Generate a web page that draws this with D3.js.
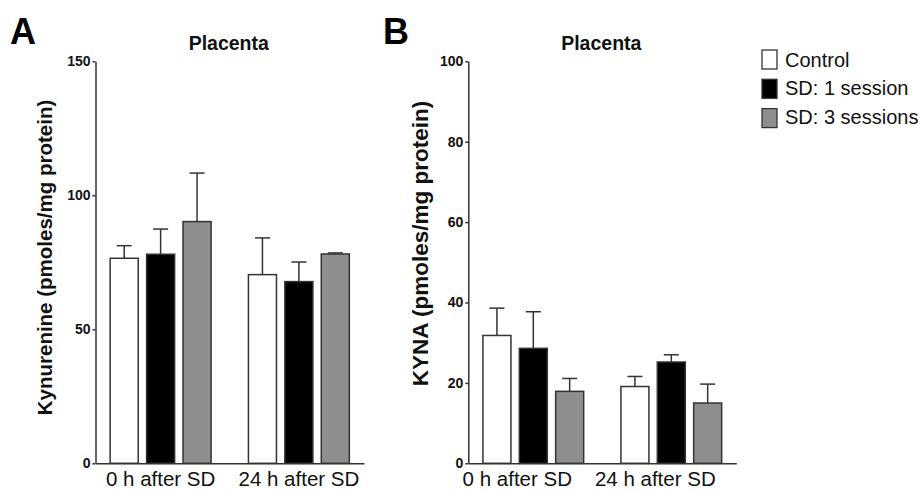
<!DOCTYPE html>
<html><head><meta charset="utf-8">
<script src="https://cdn.jsdelivr.net/npm/d3@7"></script>
<style>
html,body{margin:0;padding:0;background:#fff;}
svg{display:block;font-family:"Liberation Sans",Arial,Helvetica,sans-serif;}
</style></head>
<body><svg id="c" width="920" height="492"></svg>
<script>
const groups = ["0 h after SD", "24 h after SD"];
const seriesNames = ["Control", "SD: 1 session", "SD: 3 sessions"];
const seriesFill = ["#ffffff", "#000000", "#8e8e8e"];

// Panel A: Kynurenine (mean, SEM) per group
const kynControl = [76.5, 70.4];
const kynSD1 = [78.0, 67.8];
const kynSD3 = [90.2, 78.1];
const kynControlErr = [4.7, 13.7];
const kynSD1Err = [9.4, 7.3];
const kynSD3Err = [18.1, 0.4];
const kynTicks = [0, 50, 100, 150];

// Panel B: KYNA (mean, SEM) per group
const kynaControl = [31.8, 19.1];
const kynaSD1 = [28.6, 25.2];
const kynaSD3 = [17.9, 15.0];
const kynaControlErr = [6.8, 2.5];
const kynaSD1Err = [9.1, 1.8];
const kynaSD3Err = [3.2, 4.7];
const kynaTicks = [0, 20, 40, 60, 80, 100];

const svg = d3.select("#c");
const stroke = "#333";
const FONT = "'Liberation Sans',Arial,Helvetica,sans-serif";

function panel(opts) {
  const {x0, x1, yTop, yBot, ymax, ticks, means, errs, title, ylabel, letter, letterX, ylabelX, labelDx} = opts;
  const g = svg.append("g");
  const y = d3.scaleLinear().domain([0, ymax]).range([yBot, yTop]);
  const xg = d3.scaleBand().domain(groups).range([x0, x1]).paddingInner(0.27).paddingOuter(0.106);
  const xs = d3.scaleBand().domain(seriesNames).range([0, xg.bandwidth()]).paddingInner(0.23).paddingOuter(0);

  const data = [];
  groups.forEach((gr, gi) => seriesNames.forEach((s, si) => {
    data.push({gr, s, si, v: means[si][gi], e: errs[si][gi]});
  }));
  const cx = d => xg(d.gr) + xs(d.s) + xs.bandwidth() / 2;

  // bars
  g.selectAll("rect.bar").data(data).join("rect")
    .attr("class", "bar")
    .attr("x", d => xg(d.gr) + xs(d.s))
    .attr("width", xs.bandwidth())
    .attr("y", d => y(d.v))
    .attr("height", d => y(0) - y(d.v))
    .attr("fill", d => seriesFill[d.si])
    .attr("stroke", stroke).attr("stroke-width", 1.5);

  // error bars (upper only)
  const capW = 15;
  g.selectAll("line.err").data(data).join("line")
    .attr("x1", cx).attr("x2", cx)
    .attr("y1", d => y(d.v)).attr("y2", d => y(d.v + d.e))
    .attr("stroke", stroke).attr("stroke-width", 1.5);
  g.selectAll("line.cap").data(data).join("line")
    .attr("x1", d => cx(d) - capW / 2)
    .attr("x2", d => cx(d) + capW / 2)
    .attr("y1", d => y(d.v + d.e)).attr("y2", d => y(d.v + d.e))
    .attr("stroke", stroke).attr("stroke-width", 1.5);

  // y axis
  const ya = g.append("g").attr("transform", `translate(${x0},0)`)
    .call(d3.axisLeft(y).tickValues(ticks).tickSize(3).tickPadding(2).tickSizeOuter(0));
  ya.select(".domain").attr("stroke", stroke).attr("stroke-width", 1.5);
  ya.selectAll(".tick line").attr("stroke", stroke).attr("stroke-width", 1.5);
  ya.selectAll(".tick text").attr("font-size", 14).attr("font-weight", "bold")
    .attr("font-family", FONT).attr("fill", "#111");

  // x axis
  const xa = g.append("g").attr("transform", `translate(0,${yBot})`)
    .call(d3.axisBottom(xg).tickSize(0).tickPadding(8).tickSizeOuter(0));
  xa.select(".domain").attr("stroke", stroke).attr("stroke-width", 1.5);
  xa.selectAll(".tick text").attr("font-size", 20.5).attr("font-weight", "normal")
    .attr("font-family", FONT).attr("fill", "#111")
    .attr("dx", labelDx);

  // title
  g.append("text").attr("x", xg(groups[0]) + (xg(groups[1]) + xg.bandwidth() - xg(groups[0])) / 2 - 1)
    .attr("y", 50).attr("text-anchor", "middle").attr("font-size", 19.5).attr("font-weight", "bold")
    .attr("fill", "#111").text(title);

  // y label
  g.append("text").attr("transform", `translate(${ylabelX},${opts.ylabelY}) rotate(-90)`)
    .attr("text-anchor", "middle").attr("font-size", opts.ylabelSize).attr("font-weight", "bold")
    .attr("fill", "#111").text(ylabel);

  // panel letter
  g.append("text").attr("x", letterX).attr("y", 43.5).attr("font-size", 36).attr("font-weight", "bold")
    .attr("fill", "#000").text(letter);
}

panel({x0: 95.5, x1: 364, yTop: 61.3, yBot: 463.3, ymax: 150, ticks: kynTicks,
  means: [kynControl, kynSD1, kynSD3], errs: [kynControlErr, kynSD1Err, kynSD3Err],
  title: "Placenta", ylabel: "Kynurenine (pmoles/mg protein)", letter: "A", letterX: 10,
  ylabelX: 52, ylabelY: 257.5, ylabelSize: 20.5, labelDx: 0});

panel({x0: 468.3, x1: 736.3, yTop: 61.3, yBot: 463.3, ymax: 100, ticks: kynaTicks,
  means: [kynaControl, kynaSD1, kynaSD3], errs: [kynaControlErr, kynaSD1Err, kynaSD3Err],
  title: "Placenta", ylabel: "KYNA (pmoles/mg protein)", letter: "B", letterX: 383,
  ylabelX: 428, ylabelY: 243.5, ylabelSize: 22.5, labelDx: -16});

// legend
const leg = svg.append("g");
seriesNames.forEach((s, i) => {
  leg.append("rect").attr("x", 762).attr("y", 50 + i * 29.3).attr("width", 15).attr("height", 19)
    .attr("fill", seriesFill[i]).attr("stroke", stroke).attr("stroke-width", 1.3);
  leg.append("text").attr("x", 785).attr("y", 66.5 + i * 28.5).attr("font-size", 20)
    .attr("fill", "#111").text(s);
});
</script></body></html>
